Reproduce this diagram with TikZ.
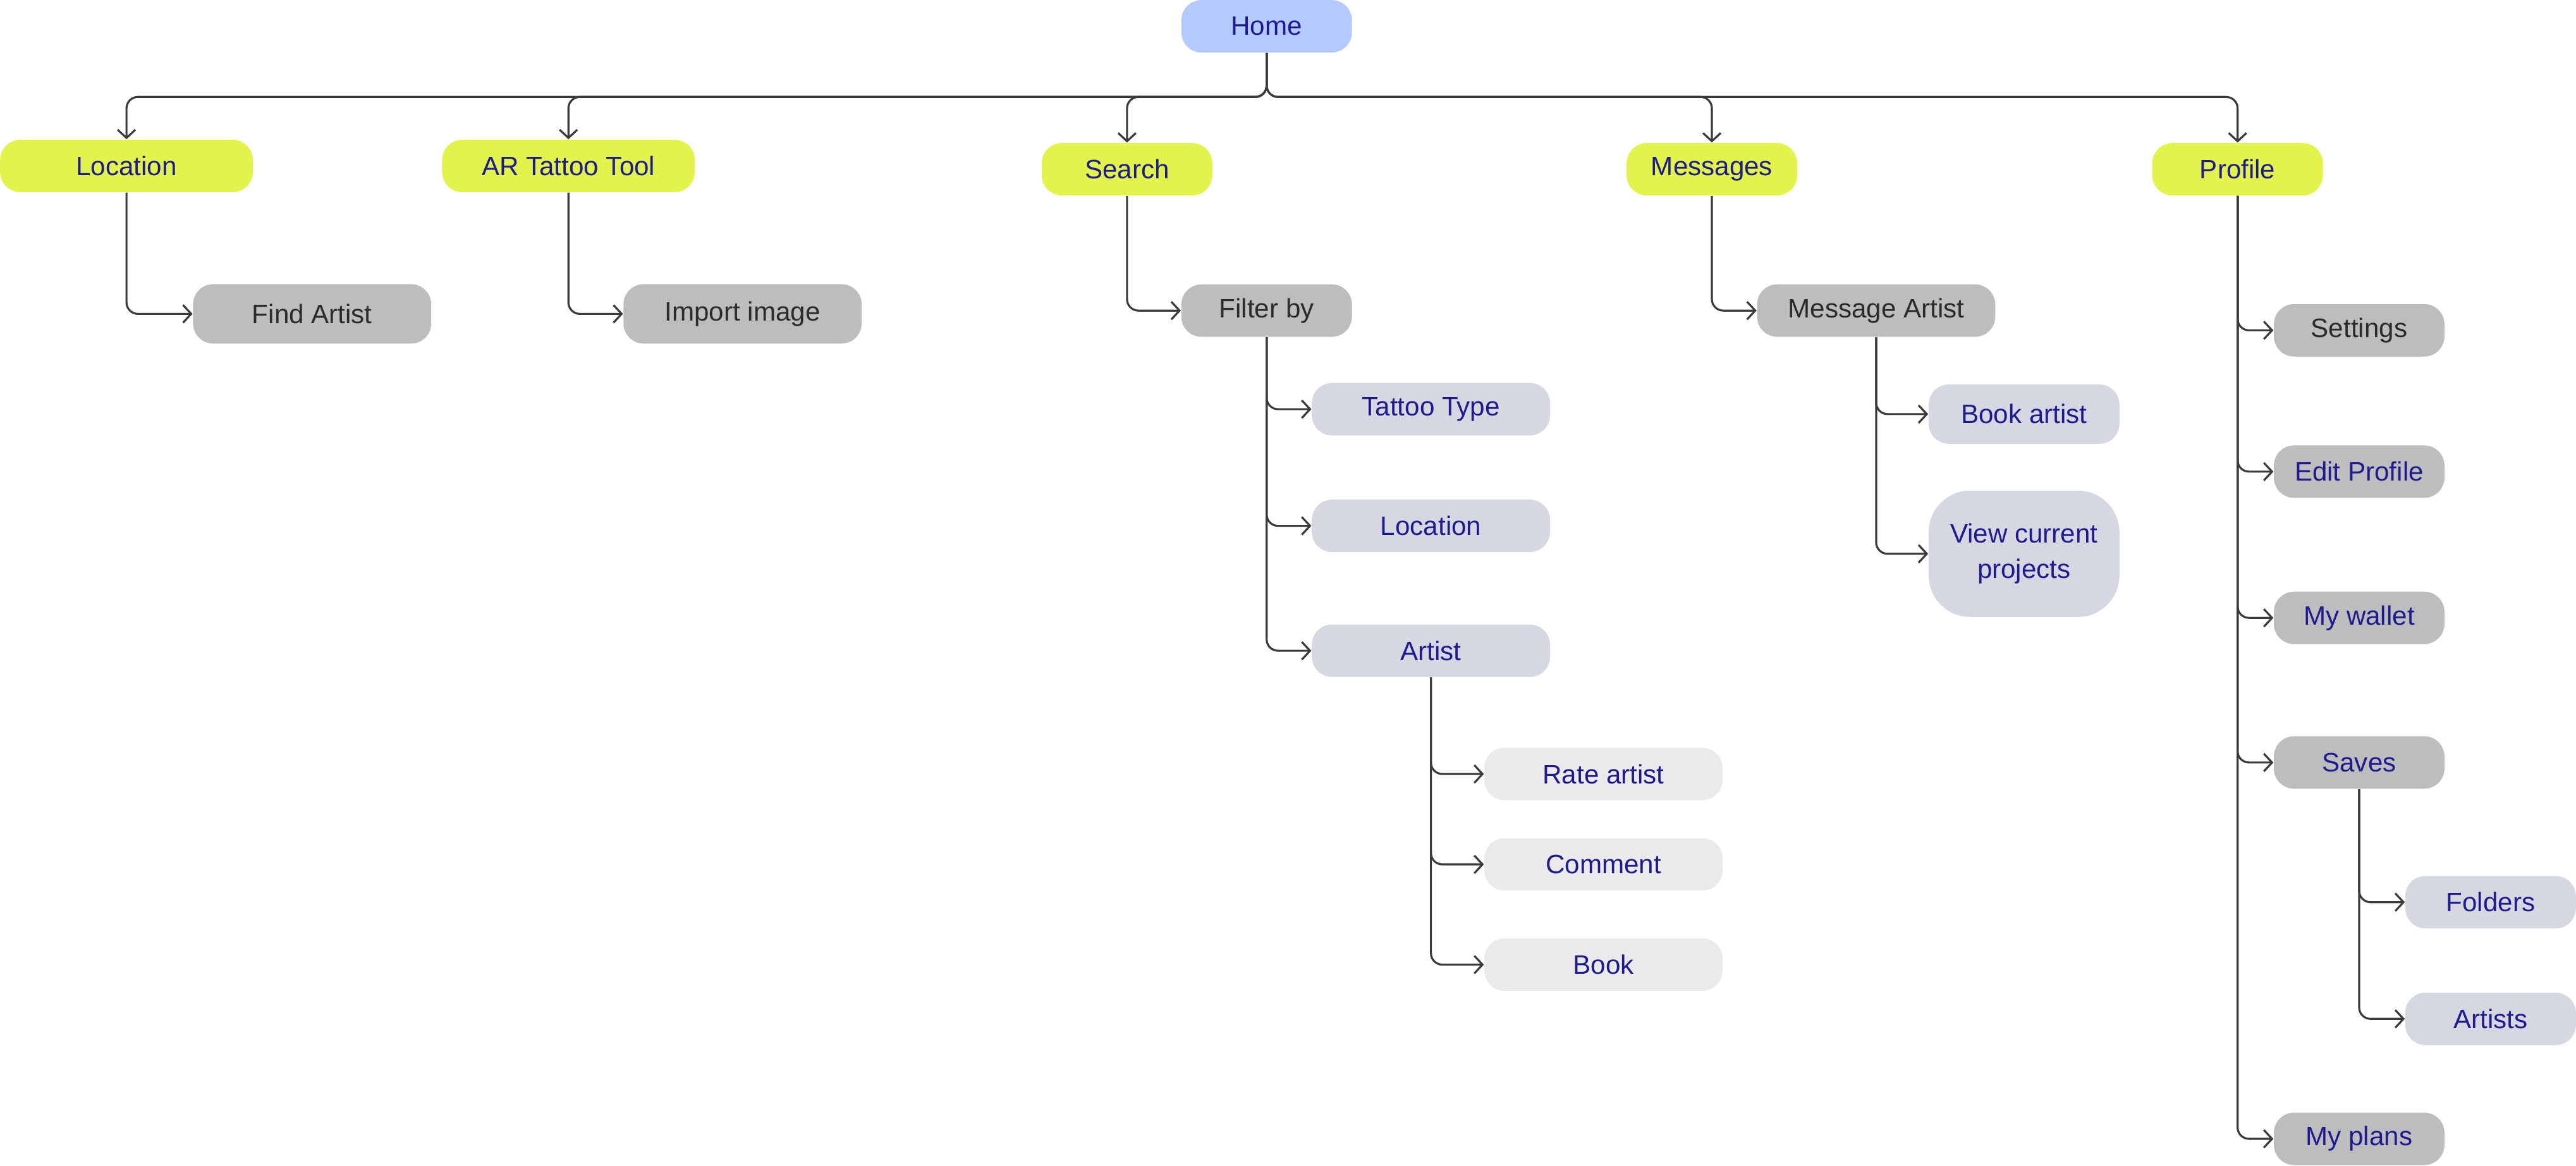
\documentclass[tikz,border=0pt]{standalone}
\usepackage{fontspec}
\setmainfont{Liberation Sans}
\usetikzlibrary{arrows.meta}
\definecolor{homec}{HTML}{B4C9FC}
\definecolor{lvlone}{HTML}{E2F44B}
\definecolor{grayc}{HTML}{BDBDBD}
\definecolor{bgray}{HTML}{D5D8E0}
\definecolor{lgray}{HTML}{EAEAEA}
\definecolor{navy}{HTML}{1F1A8F}
\definecolor{dtext}{HTML}{2B2B2B}
\definecolor{linec}{HTML}{3A3A3A}
\begin{document}
\begin{tikzpicture}[x=0.026cm,y=-0.026cm,
  box/.style={rounded corners=0.32cm, inner sep=0pt, align=center,
    font=\fontsize{12}{16}\selectfont, minimum height=0.83cm},
  tall/.style={minimum height=0.94cm},
  wA/.style={minimum width=2.70cm},
  wB/.style={minimum width=3.77cm},
  wC/.style={minimum width=4.0cm},
  wD/.style={minimum width=3.02cm},
  homebox/.style={box, wA, fill=homec, text=navy},
  topbox/.style={box, fill=lvlone, text=navy},
  graybox/.style={box, fill=grayc, text=dtext},
  graynavy/.style={box, fill=grayc, text=navy},
  bluebox/.style={box, fill=bgray, text=navy},
  lightbox/.style={box, fill=lgray, text=navy},
  conn/.style={draw=linec, line width=0.9pt, rounded corners=0.18cm,
    -{Straight Barb[length=1.3mm,width=2.8mm]}}
]
\useasboundingbox (0,0) rectangle (1568,709.5);
\coordinate (hbar) at (0,59);

\node[homebox] (home) at (771,16) {Home};

\node[topbox, wC] (loc) at (77,101) {Location};
\node[topbox, wC] (ar) at (346,101) {AR Tattoo Tool};
\node[topbox, wA] (search) at (686,103) {Search};
\node[topbox, wA] (msg) at (1042,103) {Messages};
\node[topbox, wA] (prof) at (1362,103) {Profile};

\node[graybox, wB, tall] (find) at (190,191) {Find Artist};
\node[graybox, wB, tall] (imp) at (452,191) {Import image};
\node[graybox, wA] (filt) at (771,189) {Filter by};

\node[bluebox, wB] (ttype) at (871,249) {Tattoo Type};
\node[bluebox, wB] (loctwo) at (871,320) {Location};
\node[bluebox, wB] (artist) at (871,396) {Artist};

\node[lightbox, wB] (rate) at (976,471) {Rate artist};
\node[lightbox, wB] (comm) at (976,526) {Comment};
\node[lightbox, wB] (book) at (976,587) {Book};

\node[graybox, wB] (marts) at (1142,189) {Message Artist};
\node[bluebox, wD, tall] (bart) at (1232,252) {Book artist};
\node[bluebox, wD, minimum height=2.0cm, rounded corners=0.66cm] (view) at (1232,337) {View current\\projects};

\node[graybox, wA] (sett) at (1436,201) {Settings};
\node[graynavy, wA] (edit) at (1436,287) {Edit Profile};
\node[graynavy, wA] (wall) at (1436,376) {My wallet};
\node[graynavy, wA] (saves) at (1436,464) {Saves};
\node[bluebox, wA] (fold) at (1516,549) {Folders};
\node[bluebox, wA] (arts) at (1516,620) {Artists};
\node[graynavy, wA] (plans) at (1436,693) {My plans};

% Home connectors
\foreach \c in {loc,ar,search,msg,prof}
  \draw[conn] (home.south) |- (\c.north |- hbar) -- (\c.north);

% child connectors
\draw[conn] (loc.south) |- (find.west);
\draw[conn] (ar.south) |- (imp.west);
\draw[conn] (search.south) |- (filt.west);
\foreach \c in {ttype,loctwo,artist}
  \draw[conn] (filt.south) |- (\c.west);
\foreach \c in {rate,comm,book}
  \draw[conn] (artist.south) |- (\c.west);
\draw[conn] (msg.south) |- (marts.west);
\foreach \c in {bart,view}
  \draw[conn] (marts.south) |- (\c.west);
\foreach \c in {sett,edit,wall,saves,plans}
  \draw[conn] (prof.south) |- (\c.west);
\foreach \c in {fold,arts}
  \draw[conn] (saves.south) |- (\c.west);
\end{tikzpicture}
\end{document}
